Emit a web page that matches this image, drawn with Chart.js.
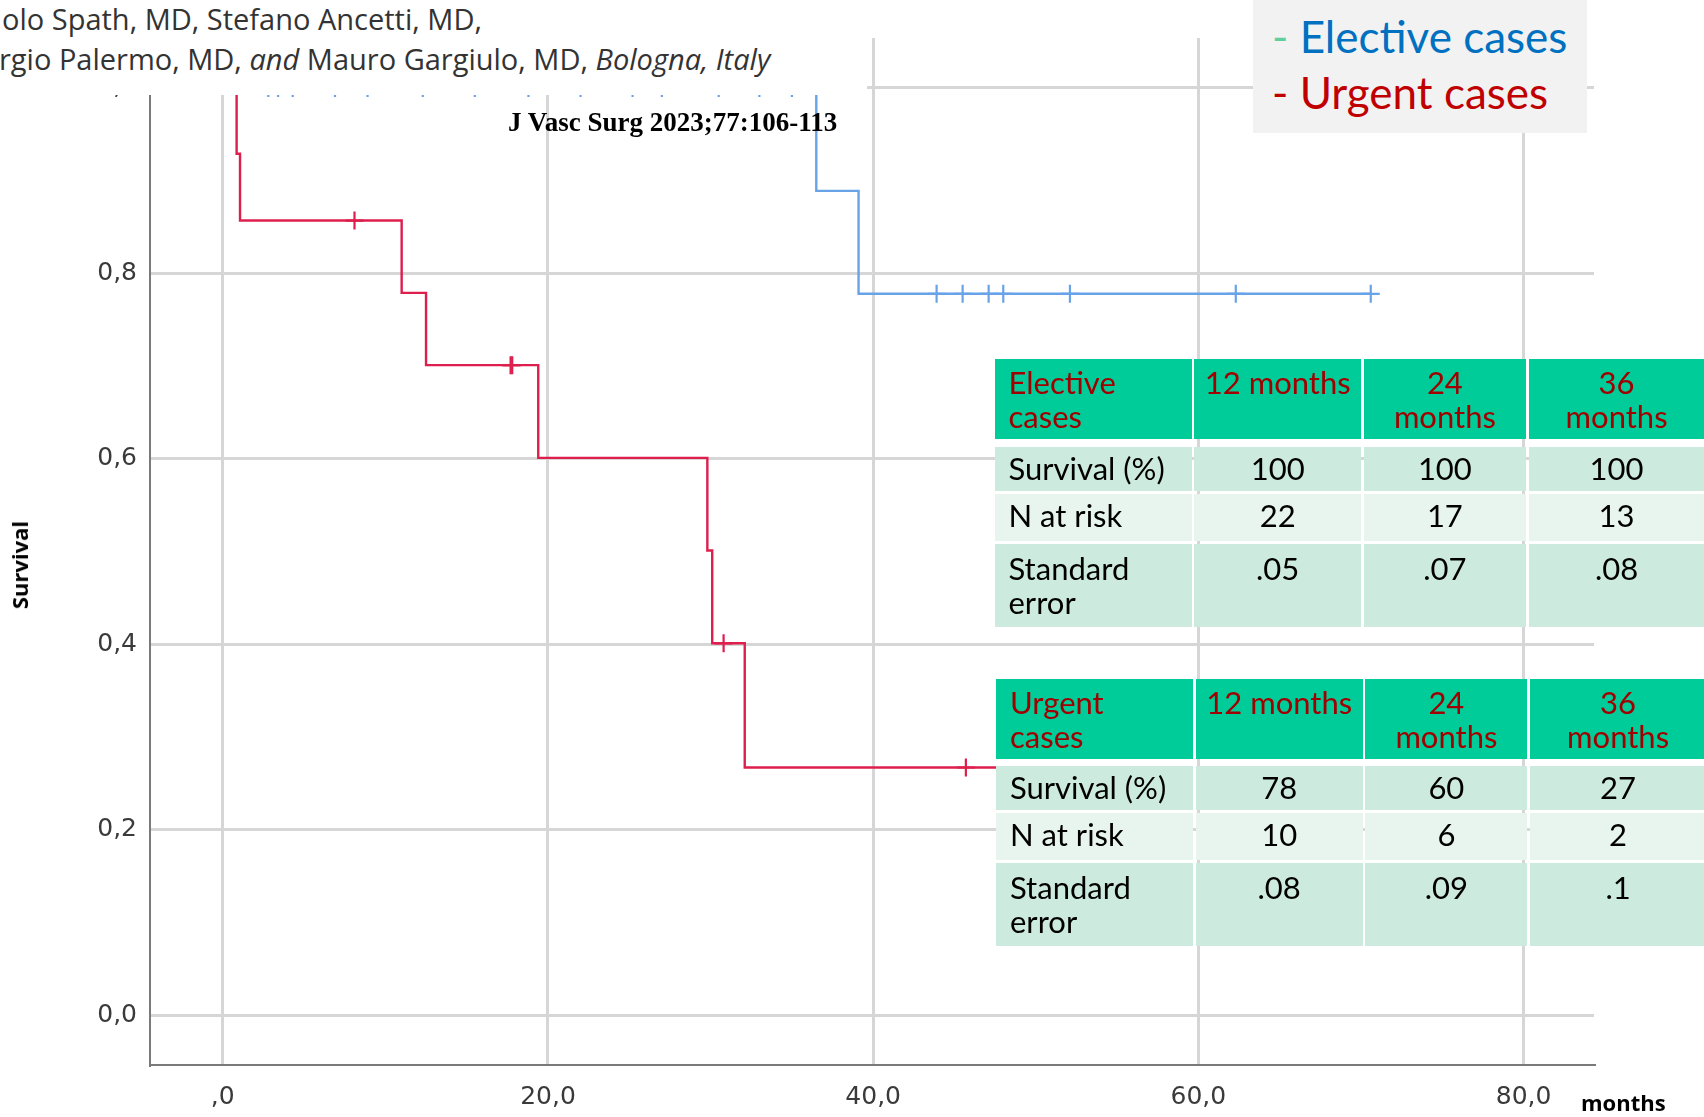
<!DOCTYPE html>
<html lang="en">
<head>
<meta charset="utf-8">
<title>Survival — elective vs urgent cases</title>
<script src="https://cdn.jsdelivr.net/npm/chart.js@4.4.1/dist/chart.umd.min.js"></script>
<style>
  html, body { margin: 0; padding: 0; background: #fff; }
  #stage { position: relative; width: 1704px; height: 1117px; overflow: hidden; }
  #km { position: absolute; left: 0; top: 0; }
  .overlay { position: absolute; white-space: nowrap; }

  /* ── author strip (covers top-left of plot) ── */
  #authors { left: 0; top: 0; width: 867px; height: 95px; background: #fff;
             font-family: 'Open Sans', sans-serif; font-size: 29px; color: #333; }
  #authors div { position: absolute; line-height: 30px; }

  #journal { left: 508px; top: 107px; font-family: 'Liberation Serif', serif;
             font-weight: bold; font-size: 27px; line-height: 30px; color: #000; }

  /* ── legend box ── */
  #legend { left: 1253px; top: 0; width: 334px; height: 133px; background: #f2f2f2;
            font-family: Lato, sans-serif; font-size: 44px; }
  #legend div { position: absolute; left: 19px; line-height: 56px; }

  /* ── axis titles ── */
  #ytitle { left: 19px; top: 565px; transform: translate(-50%, -50%) rotate(-90deg);
            font-family: 'Open Sans', sans-serif; font-weight: bold; font-size: 22px; color: #000; }
  #xtitle { left: 1581px; top: 1087px; font-family: 'Open Sans', sans-serif;
            font-weight: bold; font-size: 22px; line-height: 30px; color: #000; }

  /* ── summary tables ── */
  .kmtable { position: absolute; display: grid;
             grid-template-columns: 197px 167px 162px 176px;
             grid-template-rows: 84.5px 44px 47px 83px;
             column-gap: 2.7px; row-gap: 3px;
             font-family: Lato, sans-serif; font-size: 31px; line-height: 34px; color: #000; }
  .cell { box-sizing: border-box; text-align: center; padding-top: 4px; white-space: nowrap; }
  .cell.first { text-align: left; padding-left: 14px; }
  .cell.r0 { background: #00cc99; color: #a00000; margin-bottom: 4.5px; padding-top: 6px; }
  .cell.r1 { background: #cdeadf; }
  .cell.r2 { background: #e8f5ef; }
  .cell.r3 { background: #cdeadf; padding-top: 7px; }
</style>
</head>
<body>
<div id="stage">
  <canvas id="km" width="1704" height="1117"></canvas>

  <div id="authors" class="overlay">
    <div style="left:2px; top:4px;">olo Spath, MD, Stefano Ancetti, MD,</div>
    <div style="left:-1px; top:44px;">rgio Palermo, MD, <i>and</i> Mauro Gargiulo, MD, <i>Bologna, Italy</i></div>
  </div>
  <div id="journal" class="overlay">J Vasc Surg 2023;77:106-113</div>
  <div id="legend" class="overlay"></div>
  <div id="ytitle" class="overlay">Survival</div>
  <div id="xtitle" class="overlay">months</div>
  <div id="tbl-elective" class="kmtable" style="left:994.5px; top:359.3px;"></div>
  <div id="tbl-urgent" class="kmtable" style="left:996px; top:678.7px;"></div>
</div>

<script>
'use strict';

/* ── Axis ticks ── */
const xTickValues = [0, 20, 40, 60, 80];
const xTickLabels = [',0', '20,0', '40,0', '60,0', '80,0'];
const yTickValues = [0, 0.2, 0.4, 0.6, 0.8, 1.0];
const yTickLabels = ['0,0', '0,2', '0,4', '0,6', '0,8', '1,0'];

/* ── Kaplan-Meier steps (months, survival) ── */
const electiveTimes = [0, 36.5, 39.1, 70.6];
const electiveSurv  = [1.0, 0.889, 0.778, 0.778];
const electiveCensorTimes = [2.8, 3.4, 4.3, 6.9, 8.9, 12.3, 15.5, 18.8, 22.0, 25.2, 27.0, 30.5, 33.0, 35.0,
                             43.9, 45.5, 47.1, 48.0, 52.1, 62.3, 70.6];
const electiveCensorSurv  = [1, 1, 1, 1, 1, 1, 1, 1, 1, 1, 1, 1, 1, 1,
                             0.778, 0.778, 0.778, 0.778, 0.778, 0.778, 0.778];

const urgentTimes = [0, 0.85, 1.06, 11.0, 12.5, 19.4, 29.8, 30.1, 32.1, 49.0];
const urgentSurv  = [1.0, 0.929, 0.857, 0.779, 0.701, 0.601, 0.501, 0.401, 0.267, 0.267];
const urgentCensorTimes = [8.1, 17.7, 17.8, 30.8, 45.7];
const urgentCensorSurv  = [0.857, 0.701, 0.701, 0.401, 0.267];

/* ── Legend + table contents ── */
const seriesNames = ['Elective cases', 'Urgent cases'];
const periodHeads = ['12 months', '24<br>months', '36<br>months'];
const rowLabels   = ['Survival (%)', 'N at risk', 'Standard<br>error'];
const electiveSurvivalPct = [100, 100, 100];
const electiveAtRisk      = [22, 17, 13];
const electiveStdErr      = ['.05', '.07', '.08'];
const urgentSurvivalPct   = [78, 60, 27];
const urgentAtRisk        = [10, 6, 2];
const urgentStdErr        = ['.08', '.09', '.1'];

const C = {
  blue:  '#68a3e8',
  red:   '#de1f4e',
  grid:  '#d6d6d6',
  axis:  '#7a7a7a',
  tick:  '#3a3a3a',
};

const toPoints = (xs, ys) => xs.map((x, i) => ({ x, y: ys[i] }));

/* ============================================================
   LEGEND
   ============================================================ */
(function initLegend() {
  const box = document.getElementById('legend');
  const styles = [
    { top: 8,  dash: '#5fcf9e', text: '#0070c0' },
    { top: 64, dash: '#c00000', text: '#c00000' },
  ];
  seriesNames.forEach((name, i) => {
    const row = document.createElement('div');
    row.style.top = styles[i].top + 'px';
    row.innerHTML = `<span style="color:${styles[i].dash}">-</span> <span style="color:${styles[i].text}">${name}</span>`;
    box.appendChild(row);
  });
})();

/* ============================================================
   TABLES
   ============================================================ */
function buildTable(id, corner, survival, atRisk, stdErr) {
  const el = document.getElementById(id);
  const rows = [
    [corner].concat(periodHeads),
    [rowLabels[0]].concat(survival),
    [rowLabels[1]].concat(atRisk),
    [rowLabels[2]].concat(stdErr),
  ];
  rows.forEach((row, r) => row.forEach((txt, c) => {
    const cell = document.createElement('div');
    cell.className = 'cell r' + r + (c === 0 ? ' first' : '');
    cell.innerHTML = txt;
    el.appendChild(cell);
  }));
}
buildTable('tbl-elective', 'Elective<br>cases', electiveSurvivalPct, electiveAtRisk, electiveStdErr);
buildTable('tbl-urgent',   'Urgent<br>cases',   urgentSurvivalPct,   urgentAtRisk,   urgentStdErr);

/* ============================================================
   CHART
   ============================================================ */
(function initKM() {
  const ctx = document.getElementById('km');

  const stepLine = (data, color) => ({
    data, borderColor: color, borderWidth: 2.4, stepped: true,
    pointRadius: 0, pointHoverRadius: 0, fill: false,
  });
  const censors = (data, color) => ({
    data, showLine: false, pointStyle: 'cross', pointRadius: 9,
    pointBorderWidth: 2.2, pointBorderColor: color, pointBackgroundColor: color,
  });

  const tickFont = { family: "'DejaVu Sans', sans-serif", size: 25 };

  new Chart(ctx, {
    type: 'line',
    data: {
      datasets: [
        stepLine(toPoints(electiveTimes, electiveSurv), C.blue),
        censors(toPoints(electiveCensorTimes, electiveCensorSurv), C.blue),
        stepLine(toPoints(urgentTimes, urgentSurv), C.red),
        censors(toPoints(urgentCensorTimes, urgentCensorSurv), C.red),
      ],
    },
    options: {
      responsive: false,
      animation: false,
      devicePixelRatio: 1,
      layout: { padding: { top: 38, right: 110, left: 0, bottom: 0 } },
      plugins: { legend: { display: false }, tooltip: { enabled: false } },
      scales: {
        x: {
          type: 'linear',
          min: -4.477, max: 84.33,
          afterBuildTicks: (s) => { s.ticks = xTickValues.map(v => ({ value: v })); },
          afterFit: (s) => { s.height = 52; },
          ticks: {
            callback: (v, i) => xTickLabels[i],
            padding: 17, font: tickFont, color: C.tick,
            maxRotation: 0, autoSkip: false,
          },
          grid: { color: C.grid, lineWidth: 3, drawTicks: false },
          border: { color: C.axis, width: 2 },
        },
        y: {
          min: -0.0539, max: 1.0539,
          afterBuildTicks: (s) => { s.ticks = yTickValues.map(v => ({ value: v })); },
          afterFit: (s) => { s.width = 150; },
          ticks: {
            callback: (v, i) => yTickLabels[i],
            padding: 13, font: tickFont, color: C.tick, autoSkip: false,
          },
          grid: { color: C.grid, lineWidth: 3, drawTicks: false },
          border: { color: C.axis, width: 2 },
        },
      },
    },
  });
})();
</script>
</body>
</html>
